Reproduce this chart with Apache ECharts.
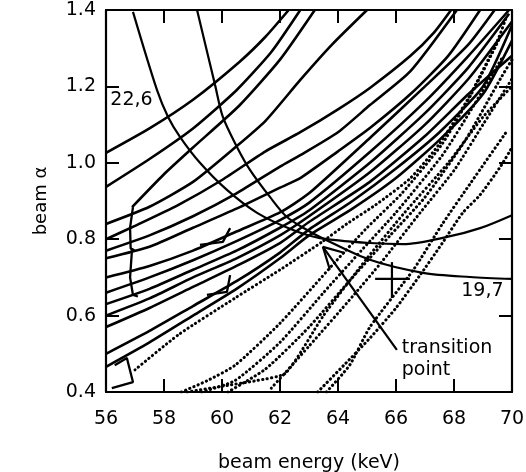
<!DOCTYPE html>
<html>
<head>
<meta charset="utf-8">
<script src="https://cdn.jsdelivr.net/npm/echarts@6/dist/echarts.min.js"></script>
<style>
  html, body { margin: 0; background: #fff; }
  #chart { width: 526px; height: 472px; }
</style>
</head>
<body>
<div id="chart"></div>
<script>
// beam alpha vs beam energy — solid / dotted trajectories, two contour arcs, transition point
const FONT = "DejaVu Sans";
const INK = "#000";

// solid trajectories [energy keV, alpha]
const upper1 = [[56,1.026],[57.5,1.09],[59,1.165],[60.6,1.264],[61.5,1.33],[62.3,1.4]];
const upper2 = [[56,0.937],[57.5,1.01],[59,1.09],[60.5,1.19],[61.7,1.29],[62.7,1.4]];
const upper3 = [[56.9,0.884],[58,0.97],[59,1.04],[60.6,1.15],[62,1.27],[63.2,1.4]];
const upper4 = [[56,0.84],[57.5,0.885],[59,0.95],[60.45,1.04],[61.5,1.11],[62.7,1.217],[63.8,1.31],[65,1.4]];
const upper5 = [[56,0.80],[57,0.835],[58.5,0.89],[60,0.955],[61.5,1.03],[62.7,1.08],[64,1.14],[65.1,1.196],[66.5,1.28],[67.3,1.34],[67.9,1.4]];
const upper6 = [[56,0.77],[57.5,0.81],[59,0.86],[60.5,0.92],[62,0.99],[62.7,1.02],[64,1.08],[65.1,1.151],[66.5,1.24],[68.1,1.4]];
const upper7 = [[56,0.75],[57.5,0.78],[59,0.83],[60.5,0.88],[62,0.935],[62.7,0.96],[64,1.03],[65.1,1.091],[66.5,1.18],[67.8,1.28],[68.9,1.4]];
const bundle1 = [[56,0.70],[57.5,0.73],[59,0.77],[60.5,0.82],[62,0.87],[63,0.92],[65.1,1.065],[67,1.2],[68.5,1.31],[69.4,1.4]];
const bundle2 = [[56,0.66],[57.5,0.70],[59,0.745],[60.5,0.795],[62,0.85],[63,0.895],[65.1,1.028],[67,1.16],[68.5,1.28],[69.9,1.4]];
const bundle3 = [[56,0.63],[57.5,0.67],[59,0.72],[60.5,0.77],[62,0.83],[63,0.875],[65.1,1.0],[67,1.13],[68.5,1.25],[69.9,1.39]];
const bundle4 = [[56,0.60],[57.5,0.645],[59,0.70],[60.5,0.75],[62,0.81],[63,0.86],[65.1,0.975],[67,1.1],[68.5,1.22],[70,1.37]];
const bundle5 = [[56,0.57],[57.5,0.62],[59,0.675],[60.5,0.73],[62,0.79],[63,0.845],[65.1,0.95],[67,1.07],[68.5,1.18],[70,1.28]];
const bundle6 = [[56,0.50],[57.5,0.56],[59,0.625],[60.5,0.69],[62,0.765],[63,0.825],[64.5,0.9],[66,0.985],[67.5,1.08],[69,1.2],[70,1.36]];
const bundle7 = [[56,0.466],[57.5,0.53],[59,0.60],[60.5,0.67],[62,0.75],[63,0.81],[64.5,0.88],[66,0.96],[67.5,1.06],[69,1.18],[70,1.32]];
const solidLines = [upper1, upper2, upper3, upper4, upper5, upper6, upper7,
  bundle1, bundle2, bundle3, bundle4, bundle5, bundle6, bundle7];

// small kinks in the solid data
const jag1 = [[56.93,0.884],[56.83,0.83],[56.85,0.776],[57.0,0.77]];
const jag2 = [[56.9,0.776],[56.83,0.70],[56.93,0.654],[57.1,0.65]];
const jag3 = [[56.2,0.41],[56.93,0.426],[56.72,0.489],[56.3,0.47]];
const jag4 = [[60.28,0.829],[60.03,0.793],[59.24,0.785]];
const jag5 = [[60.28,0.706],[60.17,0.662],[59.48,0.654]];
const jags = [jag1, jag2, jag3, jag4, jag5];

// dotted trajectories
const dot1 = [[57,0.458],[58.5,0.55],[60.45,0.646],[62,0.72],[63.45,0.793],[64.3,0.84],[65.3,0.89],[66.5,0.96],[67.5,1.05],[68.5,1.17],[69.5,1.32],[69.8,1.38]];
const dot2 = [[58.6,0.40],[59.5,0.43],[60.45,0.47],[62,0.58],[63.9,0.74],[65,0.83],[66.2,0.92],[67.6,1.05],[68.6,1.18],[69.6,1.33]];
const dot3 = [[59.3,0.40],[60.45,0.43],[62,0.53],[63.5,0.66],[64.8,0.77],[66,0.87],[67.6,1.02],[68.6,1.14],[69.7,1.28]];
const dot4 = [[60.2,0.40],[61.5,0.46],[63,0.57],[64.5,0.70],[65.8,0.81],[67,0.91],[68.4,1.06],[69.6,1.22],[70,1.27]];
const dot5 = [[61.7,0.41],[63,0.52],[64.5,0.65],[65.5,0.74],[66.83,0.869],[68,0.98],[69,1.1],[70,1.22]];
const dot6 = [[63.3,0.40],[64.2,0.47],[65.1,0.541],[66,0.62],[66.83,0.706],[67.6,0.79],[68.3,0.869],[68.9,0.916],[69.6,0.99],[70,1.04]];
const dot7 = [[63.6,0.40],[64.4,0.47],[65.1,0.57],[66.6,0.72],[67.6,0.84],[68.6,0.95],[69.8,1.08]];
const dot8 = [[58.8,0.40],[60,0.415],[61.2,0.43],[62.2,0.45],[63.5,0.6],[65,0.75],[66.3,0.87],[67.8,1.0],[69,1.12],[70,1.2]];
const dottedLines = [dot1, dot2, dot3, dot4, dot5, dot6, dot7, dot8];

// contour arcs (22,6 and 19,7)
const arcA = [[56.93,1.395],[57.76,1.19],[58.14,1.12],[58.55,1.068],[59.24,1.0],[60.17,0.929],[61.21,0.869],[62.45,0.824],[63.38,0.803],[65.1,0.79],[66.24,0.787],[67.76,0.806],[68.9,0.829],[70,0.863]];
const arcB = [[59.14,1.4],[59.76,1.204],[60.03,1.12],[60.52,1.041],[60.97,0.981],[61.66,0.91],[62.24,0.858],[62.93,0.824],[63.45,0.803],[65.1,0.746],[66.93,0.712],[68.55,0.701],[70,0.696]];

// error cross, arrow, labels
const crossH = [[65.28,0.696],[66.48,0.696]];
const crossV = [[65.86,0.646],[65.86,0.74]];
const arrowShaft = [[66.03,0.51],[63.48,0.78]];
const arrowHead = [[63.72,0.72],[63.48,0.78],[64.24,0.764]];
const notes = [[56.15,1.163,"22,6"],[68.25,0.665,"19,7"],[66.2,0.487,"transition\npoint"]];

const chart = echarts.init(document.getElementById("chart"), null, { renderer: "canvas" });

const line = (data, style, smooth) => ({
  type: "line", data, symbol: "none", silent: true, smooth: smooth || 0,
  lineStyle: Object.assign({ color: INK, width: 2.6, opacity: 1 }, style)
});

const series = [];
solidLines.forEach(d => series.push(line(d, {}, 0.2)));
jags.forEach(d => series.push(line(d, { width: 2.3 })));
dottedLines.forEach(d => series.push(line(d, { width: 3, type: [0.3, 4.2], cap: "round" }, 0.2)));
series.push(line(arcA, { width: 2.2 }, 0.3));
series.push(line(arcB, { width: 2.2 }, 0.3));
[crossH, crossV, arrowShaft, arrowHead].forEach(d => series.push(line(d, { width: 2.2 })));
series.push({
  type: "scatter", symbolSize: 0, silent: true, itemStyle: { opacity: 1 },
  data: notes.map(n => ({ value: [n[0], n[1]], name: n[2] })),
  label: {
    show: true, position: "right", distance: 0, formatter: p => p.name,
    fontFamily: FONT, fontSize: 19, color: INK, lineHeight: 22, align: "left",
    textBorderWidth: 0
  }
});

const axisBase = {
  type: "value",
  axisLine: { show: true, lineStyle: { color: INK, width: 2.2 } },
  axisTick: { show: true, inside: true, length: 13, lineStyle: { color: INK, width: 2 } },
  splitLine: { show: false }
};

chart.setOption({
  animation: false,
  backgroundColor: "#fff",
  grid: { left: 106, right: 14, top: 10, bottom: 80, outerBoundsMode: "none", containLabel: false },
  xAxis: [
    Object.assign({}, axisBase, {
      min: 56, max: 70, interval: 2, position: "bottom",
      axisLabel: { fontFamily: FONT, fontSize: 19, color: INK, margin: 18 },
      name: "beam energy (keV)", nameLocation: "middle", nameGap: 62,
      nameTextStyle: { fontFamily: FONT, fontSize: 19, color: INK }
    }),
    Object.assign({}, axisBase, {
      min: 56, max: 70, interval: 2, position: "top", axisLabel: { show: false }
    })
  ],
  yAxis: [
    Object.assign({}, axisBase, {
      min: 0.4, max: 1.4, interval: 0.2, position: "left",
      axisLabel: { fontFamily: FONT, fontSize: 19, color: INK, margin: 10, formatter: v => v.toFixed(1) },
      name: "beam α", nameLocation: "middle", nameGap: 56, nameRotate: 90,
      nameTextStyle: { fontFamily: FONT, fontSize: 18, color: INK }
    }),
    Object.assign({}, axisBase, {
      min: 0.4, max: 1.4, interval: 0.2, position: "right", axisLabel: { show: false }
    })
  ],
  series
});
</script>
</body>
</html>
